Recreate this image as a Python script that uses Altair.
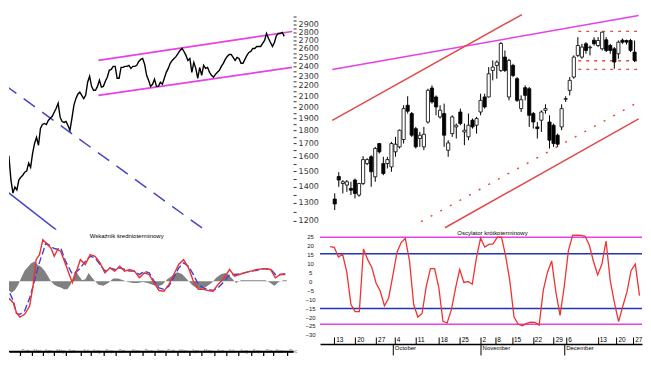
import json
import altair as alt
import pandas as pd

# ---------------- data ----------------
# top-left: long-term close (log scale), one value per step
price = [1647, 1575, 1596, 1441, 1359, 1396, 1378, 1441, 1460, 1473, 1493, 1500, 1555, 1526, 1625,
         1699, 1746, 1685, 1818, 1850, 1859, 1850, 1884, 1902, 1920, 1955, 1990, 2036, 1912, 1875,
         1867, 1875, 1842, 1801, 1902, 2017, 2078, 2120, 2139, 2109, 2078, 2109, 2237, 2298, 2196,
         2158, 2158, 2196, 2257, 2188, 2196, 2247, 2288, 2360, 2370, 2403, 2403, 2277, 2277, 2392,
         2392, 2403, 2403, 2414, 2381, 2403, 2403, 2414, 2457, 2479, 2490, 2425, 2308, 2257, 2196,
         2217, 2267, 2196, 2196, 2237, 2217, 2277, 2339, 2381, 2436, 2468, 2490, 2513, 2547, 2581,
         2604, 2569, 2524, 2468, 2490, 2339, 2446, 2381, 2277, 2392, 2308, 2414, 2381, 2392, 2339,
         2308, 2288, 2318, 2339, 2360, 2403, 2436, 2479, 2513, 2535, 2535, 2502, 2468, 2502, 2490,
         2436, 2436, 2479, 2524, 2558, 2569, 2604, 2604, 2628, 2628, 2628, 2663, 2699, 2786, 2723,
         2675, 2628, 2675, 2760, 2786, 2786, 2798, 2750]
price_day = list(range(len(price)))

channel_days = [47.5, 146]
channel_upper = [2468, 2811]
channel_lower = [2109, 2392]
down_dash_days = [0, 101.5]
down_dash_vals = [2207, 1152]
down_solid_days = [0, 26]
down_solid_vals = [1378, 1152]

price_ticks = [1200, 1250, 1300, 1350, 1400, 1450, 1500, 1550, 1600, 1650, 1700, 1750, 1800,
               1850, 1900, 1950, 2000, 2050, 2100, 2150, 2200, 2250, 2300, 2350, 2400, 2450,
               2500, 2550, 2600, 2650, 2700, 2750, 2800, 2850, 2900, 2950, 3000]
price_labels = [1200, 1300, 1400, 1500, 1600, 1700, 1800, 1900, 2000, 2100, 2200, 2300, 2400,
                2500, 2600, 2700, 2800, 2900]

# top-right: daily candles (open, high, low, close)
c_open = [1323, 1464, 1419, 1409, 1388, 1441, 1347, 1419, 1552, 1600, 1462, 1698, 1552, 1552, 1529,
          1636, 1673, 1729, 2017, 1943, 1816, 1737, 1673, 1871, 2180, 2094, 1914, 1943, 1648, 1776,
          1830, 1957, 1789, 1750, 1886, 1844, 1957, 2094, 2094, 2359, 2413, 2359, 2505, 2094, 2413,
          2273, 1987, 2183, 2173, 1943, 1830, 1886, 1972, 1871, 1844, 1763, 1830, 2072, 2157, 2290,
          2524, 2505, 2659, 2612, 2703, 2639, 2600, 2707, 2639, 2600, 2543, 2703, 2699, 2699, 2562]
c_high = [1357, 1493, 1441, 1441, 1430, 1451, 1423, 1605, 1590, 1612, 1673, 1703, 1600, 1600, 1711,
          1750, 1808, 2017, 2100, 1957, 1830, 1789, 1830, 2173, 2206, 2109, 2017, 2032, 1724, 1928,
          1858, 1987, 1858, 1943, 1900, 1914, 2125, 2125, 2395, 2468, 2468, 2679, 2581, 2486, 2431,
          2290, 2109, 2206, 2190, 1957, 1871, 1972, 2026, 1928, 1858, 1776, 2026, 2100, 2290, 2524,
          2740, 2659, 2679, 2639, 2740, 2740, 2806, 2740, 2659, 2620, 2699, 2723, 2710, 2719, 2699]
c_low = [1259, 1398, 1357, 1367, 1347, 1327, 1337, 1409, 1541, 1398, 1430, 1624, 1473, 1518, 1496,
         1600, 1661, 1698, 1943, 1750, 1661, 1673, 1648, 1858, 2032, 1928, 1900, 1673, 1600, 1750,
         1737, 1844, 1686, 1724, 1816, 1776, 1928, 1987, 2088, 2256, 2273, 2342, 2342, 2062, 2290,
         2047, 1957, 2062, 1830, 1816, 1737, 1789, 1943, 1661, 1673, 1673, 1803, 2047, 2109, 2273,
         2505, 2486, 2543, 2524, 2639, 2620, 2581, 2562, 2543, 2377, 2486, 2659, 2650, 2562, 2449]
c_close = [1294, 1441, 1430, 1430, 1377, 1357, 1419, 1580, 1580, 1496, 1661, 1636, 1484, 1580, 1698,
           1693, 1803, 1987, 1964, 1763, 1673, 1763, 1770, 2157, 2047, 2002, 1972, 1763, 1703, 1914,
           1844, 1858, 1803, 1844, 1830, 1900, 2062, 2002, 2324, 2395, 2449, 2663, 2359, 2468, 2307,
           2062, 2068, 2109, 1928, 1871, 1816, 1957, 1987, 1724, 1698, 1693, 1987, 2078, 2256, 2505,
           2639, 2620, 2581, 2620, 2659, 2699, 2802, 2581, 2581, 2449, 2679, 2679, 2679, 2581, 2468]
candle_day = list(range(len(c_open)))

tr_magenta_days = [-0.6, 75]
tr_magenta_vals = [2370, 3019]
tr_red_up_days = [-0.6, 46.2]
tr_red_up_vals = [1884, 3033]
tr_red_lo_days = [27.2, 75]
tr_red_lo_vals = [1163, 1897]
tr_red_dot_days = [21.3, 75]
tr_red_dot_vals = [1195, 2047]
box_days = [60.1, 75]
box_levels = [2811, 2464, 2370]

# bottom-left: medium-term indicator
macd_day = [0, 1.7, 4.2, 5.8, 7.5, 10, 12.5, 14.2, 15.8, 17.5, 19.2, 20.8, 23.3, 25, 26.7, 28.3,
            30.8, 34.2, 35.8, 38.3, 40.8, 43.3, 45.8, 48.3, 50.8, 53.3, 55.8, 58.3, 60.8, 63.3,
            65.8, 68.3, 70.8, 73.3, 75.8, 78.3, 80.8, 83.3, 85.8, 88.3, 90.8, 93.3, 95.8, 98.3,
            100.8, 103.3, 105.8, 108.3, 110.8, 114.2, 116.7, 119.2, 121.7, 125, 128.3, 131.7, 135,
            137.5, 140, 142.5]
macd_red = [-3.7, -9.3, -12, -17.6, -20, -18.5, -13.9, -2.8, 12, 14.8, 23.1, 21.3, 18.5, 13.9, 17.6,
            16.7, 9.3, -0.9, 3.7, 12, 9.3, 14.8, 13.9, 10.2, 4.6, 7.4, 5.6, 8.3, 5.6, 6.5, 5.6, 1.9,
            4.6, 3.7, -0.9, -5.2, -5.6, -1.9, 3.7, 9.3, 12, 7.4, 0, -4.6, -4.6, -5.2, -5.6, -1.9,
            0.9, 6.5, 2.8, 3.7, 4.6, 5.6, 6.5, 7, 6.5, 1.9, 3.7, 3.7]
macd_blue = [-1.9, -5, -11, -18, -18.5, -16.5, -9.4, -3, 3.7, 10.5, 16, 21.3, 19.4, 18.2, 17.8,
             18.5, 11, 4, 4.6, 7.4, 11, 13.9, 13, 9.3, 5.6, 7.4, 6.5, 7.4, 6.5, 5.6, 5.6, 3.7, 5.6,
             4.6, 0, -3.7, -4.6, -2.8, 1.9, 7.4, 10.2, 8.3, 3.7, -1.9, -3.7, -4.6, -5.2, -3.7, -0.9,
             3.7, 3.7, 4.1, 4.6, 5.6, 6.1, 7, 6.8, 3.7, 3.7, 4.1]
hist_day = [0, 1.7, 3.3, 5, 6.7, 8.3, 10, 11.7, 13.3, 15, 16.7, 18.3, 20, 21.7, 23.3, 25, 26.7,
            28.3, 30, 31.7, 33.3, 34.5, 35.8, 37.5, 39.2, 40.8, 42.5, 44.2, 45.8, 47.5, 50, 52.5,
            55, 57.5, 60, 62.5, 65, 67.5, 70, 72.5, 75, 77.5, 80, 82.5, 85, 87.5, 90, 92.5, 95,
            97.5, 100, 102.5, 105, 107.5, 110, 112.5, 115, 117.5, 120, 122.5, 125, 127.5, 130,
            132.5, 135, 137, 139.2, 141.7, 143.3]
hist_val = [-2, -5, -6.5, -5, -2, 2, 6, 8, 10, 11, 9, 8, 6, 3, 0, -2, -3, -3.5, -4.5, -4.5, -2, 2,
            6, 3, 0.5, 1, 4.5, 2, 0, -2, -2.5, -1, 1.5, 1.5, 0.5, -0.5, -1, -1, -0.5, -1, -2, -3,
            -2, 1, 3, 5, 4, 1, -2, -4, -4.5, -3, -1, 2, 4, 4.5, 2, -1, 0.5, 0.5, 0.5, 0.5, 0.5,
            0.5, -1, -2.5, -0.5, 0.5, 0.5]
left_month_ticks = [7.5, 13.5, 19, 25, 31, 38.5, 43.5, 50, 56.5, 63.5, 70, 76, 81.5, 87.5, 94, 100,
                    106.5, 112.5, 118.5, 125, 131.5, 136.5, 143.5]
left_month_names = ["Feb", "Mar", "Apr", "May", "Jun", "Jul", "Aug", "Sep", "Oct", "Nov", "Dec",
                    "Jan", "Feb", "Mar", "Apr", "May", "Jun", "Jul", "Aug", "Sep", "Oct", "Nov", "Dec"]
osc_ticks = [25, 20, 15, 10, 5, 0, -5, -10, -15, -20, -25, -30]

# bottom-right: short-term oscillator (one value per candle)
osc = [19.3, 18.9, 13.5, 15, 5, -13, -16.9, -17, 18, 12, 7.6, -1, -5.5, -13.7, -9.5, 3, 16, 21.5,
       23.9, 11.3, -13, -20, -18, -3, 7, 7, -3.5, -22.4, -23.3, -16, -4, 6.5, -0.7, -0.2, -1.7, 13,
       24, 19, 20.5, 20.8, 24.5, 24.6, 14, 0, -20, -24, -24.8, -23.5, -22.8, -23, -24.5, -5, 5,
       11.3, -6, -19, -3, 17, 25.6, 25.7, 25.5, 25, 20, 11, 3.5, 9.4, 22.4, 0.5, -12, -22.5, -14,
       -6, 6, 9.5, -8]
osc_outer = [24.5, -24]
osc_inner = [15.3, -15.2]
week_ticks = [1, 6, 11, 15.5, 20.5, 26, 31, 36, 39.5, 43.5, 48.5, 53.5, 56.5, 64, 68.5, 72.5]
week_labels = ["13", "20", "27", "4", "11", "18", "25", "2", "8", "15", "22", "29", "6", "13", "20", "27"]
month_ticks = [15, 36, 56]
month_names = ["October", "November", "December"]

titles = ["Wskaźnik średnioterminowy", "Oscylator krótkoterminowy"]

# ---------------- layout ----------------
W_L, W_R, H_T, H_BL, H_BR = 285, 323, 222, 120, 112.5
BL_DOMAIN = [-39.2, 27.5]
XL = alt.Scale(domain=[2, 146.5], nice=False, zero=False)
XR = alt.Scale(domain=[-2.4, 74.6], nice=False, zero=False)
YP = alt.Scale(type="log", domain=[1152, 3116], nice=False)
YBL = alt.Scale(domain=BL_DOMAIN, nice=False, zero=False)
YBR = alt.Scale(domain=[-35, 27.5], nice=False, zero=False)

MAG = "#e640e6"
BLUE = "#4646c8"
RED = "#e24a4a"


def seg(xs, ys, xsc, ysc, color, width=1.5, dash=None):
    kw = dict(color=color, strokeWidth=width, clip=True)
    if dash:
        kw["strokeDash"] = dash
    return alt.Chart(pd.DataFrame({"x": xs, "y": ys})).mark_line(**kw).encode(
        x=alt.X("x:Q", scale=xsc, axis=None),
        y=alt.Y("y:Q", scale=ysc, axis=None),
    )


def lookup_expr(labels, values):
    return f"{json.dumps(labels)}[indexof({json.dumps(values)}, datum.value)]"


# top-left
price_axis = alt.Axis(
    orient="right", values=price_ticks,
    labelExpr=f"indexof({json.dumps(price_labels)}, datum.value) >= 0 ? datum.value + '' : ''",
    tickSize=3, tickColor="#333", labelPadding=2, domain=False, grid=False, title=None,
    labelFont="DejaVu Sans", labelFontSize=8, labelColor="#333",
    labelOverlap=False, labelFlush=False, labelBound=False,
)
price_line = alt.Chart(pd.DataFrame({"x": price_day, "y": price})).mark_line(
    color="black", strokeWidth=1.4, clip=True
).encode(
    x=alt.X("x:Q", scale=XL, axis=None),
    y=alt.Y("y:Q", scale=YP, axis=price_axis),
)
tl = alt.layer(
    seg(down_dash_days, down_dash_vals, XL, YP, BLUE, 1.5, [14, 9]),
    seg(down_solid_days, down_solid_vals, XL, YP, BLUE, 1.5),
    seg(channel_days, channel_upper, XL, YP, MAG, 1.6),
    seg(channel_days, channel_lower, XL, YP, MAG, 1.6),
    price_line,
).resolve_axis(x="independent", y="independent").properties(width=W_L, height=H_T)

# top-right
cdf = pd.DataFrame({"x": candle_day, "o": c_open, "h": c_high, "l": c_low, "c": c_close})
wicks = alt.Chart(cdf).mark_rule(color="black", strokeWidth=1, clip=True).encode(
    x=alt.X("x:Q", scale=XR, axis=None),
    y=alt.Y("l:Q", scale=YP, axis=None),
    y2="h:Q",
)
bodies = alt.Chart(cdf).mark_bar(size=3.2, stroke="black", strokeWidth=0.8, clip=True).encode(
    x=alt.X("x:Q", scale=XR, axis=None),
    y=alt.Y("o:Q", scale=YP, axis=None),
    y2="c:Q",
    fill=alt.condition(alt.datum.c < alt.datum.o, alt.value("black"), alt.value("white")),
)
box_layers = [seg(box_days, [lv, lv], XR, YP, RED, 1.3, [3, 5]) for lv in box_levels]
tr = alt.layer(
    seg(tr_magenta_days, tr_magenta_vals, XR, YP, MAG, 1.6),
    seg(tr_red_up_days, tr_red_up_vals, XR, YP, RED, 1.5),
    seg(tr_red_lo_days, tr_red_lo_vals, XR, YP, RED, 1.5),
    seg(tr_red_dot_days, tr_red_dot_vals, XR, YP, RED, 1.5, [2, 9]),
    *box_layers,
    wicks,
    bodies,
).resolve_axis(x="independent", y="independent").properties(width=W_R, height=H_T)

# bottom-left
left_x_axis = alt.Axis(
    orient="bottom", values=left_month_ticks,
    labelExpr=lookup_expr(left_month_names, left_month_ticks),
    tickSize=4, tickColor="black", tickWidth=1.2, domain=True, domainColor="black", domainWidth=1.5,
    labelAlign="left", labelBaseline="middle", labelPadding=-4, labelOffset=1.5,
    labelFont="Liberation Sans", labelFontSize=4.5, labelColor="#777",
    labelFlush=False, labelOverlap=False, labelBound=False, grid=False, title=None,
)
osc_axis = alt.Axis(
    orient="right", values=osc_ticks, ticks=False, tickSize=0, domain=False,
    labelAlign="center", labelPadding=17, labelFont="Liberation Sans", labelFontSize=6,
    labelColor="#222", grid=False, title=None,
    labelOverlap=False, labelFlush=False, labelBound=False,
)
hist = alt.Chart(pd.DataFrame({"x": hist_day, "y": hist_val})).mark_area(
    color="#808080", clip=True
).encode(
    x=alt.X("x:Q", scale=XL, axis=left_x_axis),
    y=alt.Y("y:Q", scale=YBL, axis=osc_axis),
    y2=alt.Y2Datum(0),
)
# time-axis base line of the lower-left panel (at the bottom of its value range)
bl_baseline = alt.Chart(pd.DataFrame({"y": [BL_DOMAIN[0]]})).mark_rule(
    color="black", strokeWidth=1.5
).encode(y=alt.Y("y:Q", scale=YBL, axis=None))
bl_title = alt.Chart(pd.DataFrame({"t": [titles[0]]})).mark_text(
    font="Liberation Sans", fontSize=6, color="black"
).encode(text="t:N", x=alt.value(118), y=alt.value(4))
bl = alt.layer(
    hist,
    seg(macd_day, macd_blue, XL, YBL, "#3a44d8", 1.4, [7, 3]),
    seg(macd_day, macd_red, XL, YBL, "#ee3030", 1.4),
    bl_baseline,
    bl_title,
).resolve_axis(x="independent", y="independent").properties(width=W_L, height=H_BL)

# bottom-right
day_axis = alt.Axis(
    orient="top", offset=-H_BR, values=week_ticks,
    labelExpr=lookup_expr(week_labels, week_ticks),
    tickSize=7, tickColor="black", tickWidth=1, domain=True, domainColor="black", domainWidth=1.5,
    labelAlign="left", labelBaseline="bottom", labelPadding=-6, labelOffset=1.5,
    labelFont="Liberation Sans", labelFontSize=6.5, labelColor="black",
    labelOverlap=False, labelFlush=False, labelBound=False, grid=False, title=None,
)
month_axis = alt.Axis(
    orient="bottom", values=month_ticks,
    labelExpr=lookup_expr(month_names, month_ticks),
    tickSize=11, tickColor="black", tickWidth=1, domain=False,
    labelAlign="left", labelBaseline="top", labelPadding=-10, labelOffset=1.5,
    labelFont="Liberation Sans", labelFontSize=6, labelColor="black",
    labelOverlap=False, labelFlush=False, labelBound=False, grid=False, title=None,
)
osc_line = alt.Chart(pd.DataFrame({"x": candle_day, "y": osc})).mark_line(
    color="#f03232", strokeWidth=1.3, clip=True
).encode(
    x=alt.X("x:Q", scale=XR, axis=day_axis),
    y=alt.Y("y:Q", scale=YBR, axis=None),
)
outer_rules = alt.Chart(pd.DataFrame({"y": osc_outer})).mark_rule(color=MAG, strokeWidth=1.6).encode(
    y=alt.Y("y:Q", scale=YBR, axis=None))
inner_rules = alt.Chart(pd.DataFrame({"y": osc_inner})).mark_rule(color="#2233b4", strokeWidth=1.6).encode(
    y=alt.Y("y:Q", scale=YBR, axis=None))
month_layer = alt.Chart(pd.DataFrame({"x": month_ticks})).mark_point(opacity=0).encode(
    x=alt.X("x:Q", scale=XR, axis=month_axis))
br_title = alt.Chart(pd.DataFrame({"t": [titles[1]]})).mark_text(
    font="Liberation Sans", fontSize=6, color="black"
).encode(text="t:N", x=alt.value(173), y=alt.value(1))
br = alt.layer(
    outer_rules, inner_rules, osc_line, month_layer, br_title
).resolve_axis(x="independent", y="independent").properties(width=W_R, height=H_BR)

chart = alt.concat(
    tl, tr, bl, br, columns=2, spacing={"row": 2, "column": 27}, bounds="flush", align="each"
).resolve_scale(x="independent", y="independent").properties(
    padding=0, background="white"
).configure_view(stroke=None)

chart.save("out.html", embed_options={"renderer": "svg", "actions": False})
